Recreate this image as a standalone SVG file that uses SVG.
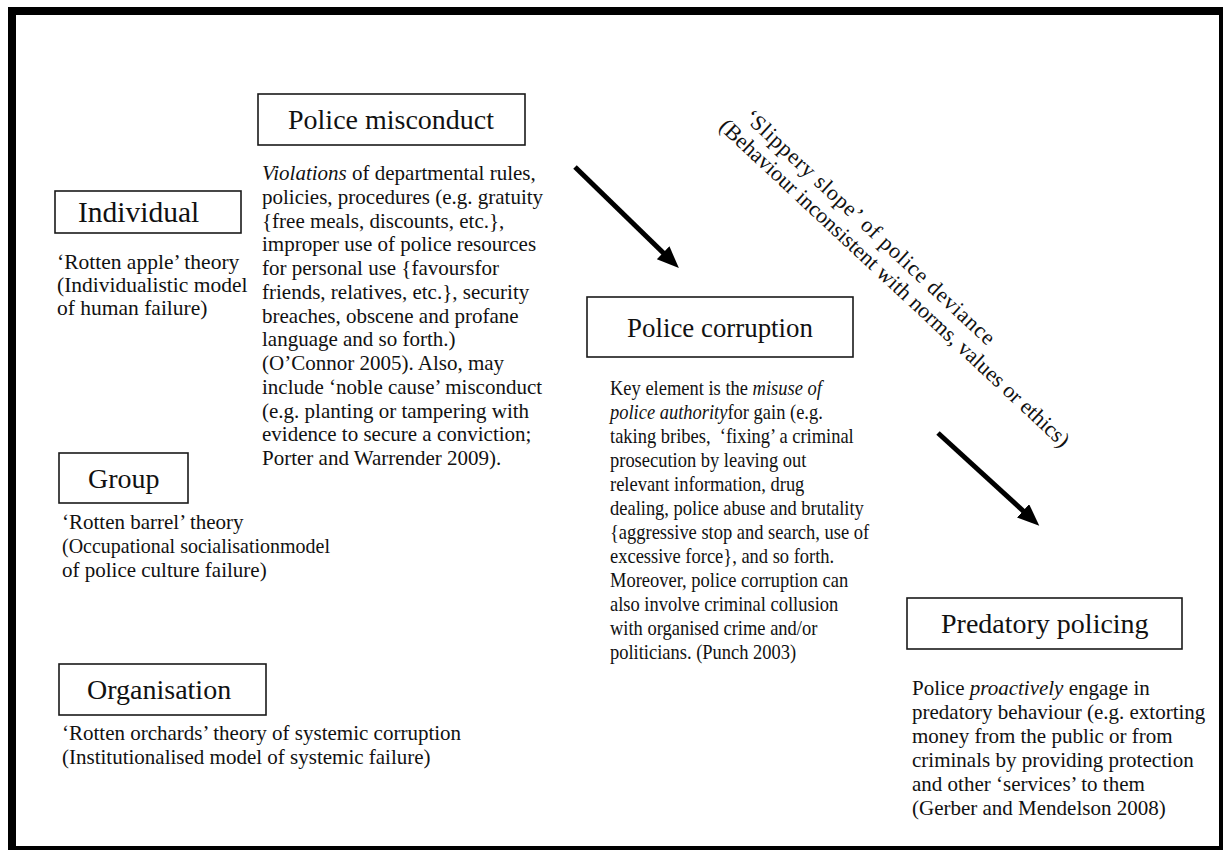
<svg xmlns="http://www.w3.org/2000/svg" width="1223" height="850" viewBox="0 0 1223 850">
<style>
.box{fill:#fff;stroke:#1a1a1a;stroke-width:1.6}
.title{font-family:"Liberation Serif","Times New Roman",serif;font-size:28px;fill:#111}
.body{font-family:"Liberation Serif","Times New Roman",serif;font-size:21px;fill:#111}
.it{font-style:italic}
.arrow{stroke:#000;stroke-width:5;fill:none}
</style>
<defs>
<marker id="ah" markerUnits="userSpaceOnUse" markerWidth="24" markerHeight="20" refX="4" refY="9" orient="auto" viewBox="0 0 24 20">
<path d="M0,0 L22,9 L0,18 z" fill="#000"/>
</marker>
</defs>
<rect x="0" y="0" width="1223" height="850" fill="#fff"/>
<rect x="12" y="11" width="1211" height="839" fill="none" stroke="#000" stroke-width="8"/>

<g id="individual">
<rect class="box" x="55" y="191" width="186" height="42"/>
<text class="title" x="78" y="222" style="font-size:29.5px">Individual</text>
<text class="body" x="57" y="269" style="font-size:21.5px">‘Rotten apple’ theory</text>
<text class="body" x="57" y="292" style="font-size:21.5px">(Individualistic model</text>
<text class="body" x="57" y="315" style="font-size:21.5px">of human failure)</text>
</g>

<g id="group">
<rect class="box" x="59" y="453" width="129" height="50"/>
<text class="title" x="88" y="488">Group</text>
<text class="body" x="62" y="529">‘Rotten barrel’ theory</text>
<text class="body" x="62" y="553" textLength="268" lengthAdjust="spacingAndGlyphs">(Occupational socialisationmodel</text>
<text class="body" x="62" y="577">of police culture failure)</text>
</g>

<g id="organisation">
<rect class="box" x="59" y="664" width="207" height="51"/>
<text class="title" x="87" y="699">Organisation</text>
<text class="body" x="62" y="740">‘Rotten orchards’ theory of systemic corruption</text>
<text class="body" x="62" y="764">(Institutionalised model of systemic failure)</text>
</g>

<g id="misconduct">
<rect class="box" x="258" y="94" width="267" height="51"/>
<text class="title" x="288" y="129">Police misconduct</text>
<text class="body" x="262" y="180"><tspan class="it">Violations</tspan> of departmental rules,</text>
<text class="body" x="262" y="203.75">policies, procedures (e.g. gratuity</text>
<text class="body" x="262" y="227.5">{free meals, discounts, etc.},</text>
<text class="body" x="262" y="251.25">improper use of police resources</text>
<text class="body" x="262" y="275">for personal use {favoursfor</text>
<text class="body" x="262" y="298.75">friends, relatives, etc.}, security</text>
<text class="body" x="262" y="322.5">breaches, obscene and profane</text>
<text class="body" x="262" y="346.25">language and so forth.)</text>
<text class="body" x="262" y="370">(O’Connor 2005). Also, may</text>
<text class="body" x="262" y="393.75">include ‘noble cause’ misconduct</text>
<text class="body" x="262" y="417.5">(e.g. planting or tampering with</text>
<text class="body" x="262" y="441.25">evidence to secure a conviction;</text>
<text class="body" x="262" y="465">Porter and Warrender 2009).</text>
</g>

<g id="corruption">
<rect class="box" x="587" y="297" width="266" height="60"/>
<text class="title" x="720" y="337" text-anchor="middle" transform="translate(720,0) scale(0.96,1) translate(-720,0)">Police corruption</text>
<g transform="translate(610,0) scale(0.88,1)">
<text class="body" x="0" y="395">Key element is the <tspan class="it">misuse of</tspan></text>
<text class="body" x="0" y="419"><tspan class="it">police authority</tspan>for gain (e.g.</text>
<text class="body" x="0" y="443" xml:space="preserve">taking bribes,  ‘fixing’ a criminal</text>
<text class="body" x="0" y="467">prosecution by leaving out</text>
<text class="body" x="0" y="491">relevant information, drug</text>
<text class="body" x="0" y="515">dealing, police abuse and brutality</text>
<text class="body" x="0" y="539">{aggressive stop and search, use of</text>
<text class="body" x="0" y="563">excessive force}, and so forth.</text>
<text class="body" x="0" y="587">Moreover, police corruption can</text>
<text class="body" x="0" y="611">also involve criminal collusion</text>
<text class="body" x="0" y="635">with organised crime and/or</text>
<text class="body" x="0" y="659">politicians. (Punch 2003)</text>
</g>
</g>

<g id="predatory">
<rect class="box" x="907" y="598" width="275" height="51"/>
<text class="title" x="941" y="633">Predatory policing</text>
<text class="body" x="912" y="695">Police <tspan class="it">proactively</tspan> engage in</text>
<text class="body" x="912" y="719">predatory behaviour (e.g. extorting</text>
<text class="body" x="912" y="743">money from the public or from</text>
<text class="body" x="912" y="767">criminals by providing protection</text>
<text class="body" x="912" y="791">and other ‘services’ to them</text>
<text class="body" x="912" y="815">(Gerber and Mendelson 2008)</text>
</g>

<g id="slope" transform="translate(718,128) rotate(43)">
<text class="body" style="font-size:22px" x="12" y="-24" letter-spacing="0.8">‘Slippery slope’ of police deviance</text>
<text class="body" style="font-size:22px" x="0" y="0">(Behaviour inconsistent with norms, values or ethics)</text>
</g>

<g id="connectors">
<line class="arrow" x1="575" y1="167" x2="666" y2="255.5" marker-end="url(#ah)"/>
<line class="arrow" x1="938" y1="433" x2="1026" y2="513.5" marker-end="url(#ah)"/>
</g>
</svg>
